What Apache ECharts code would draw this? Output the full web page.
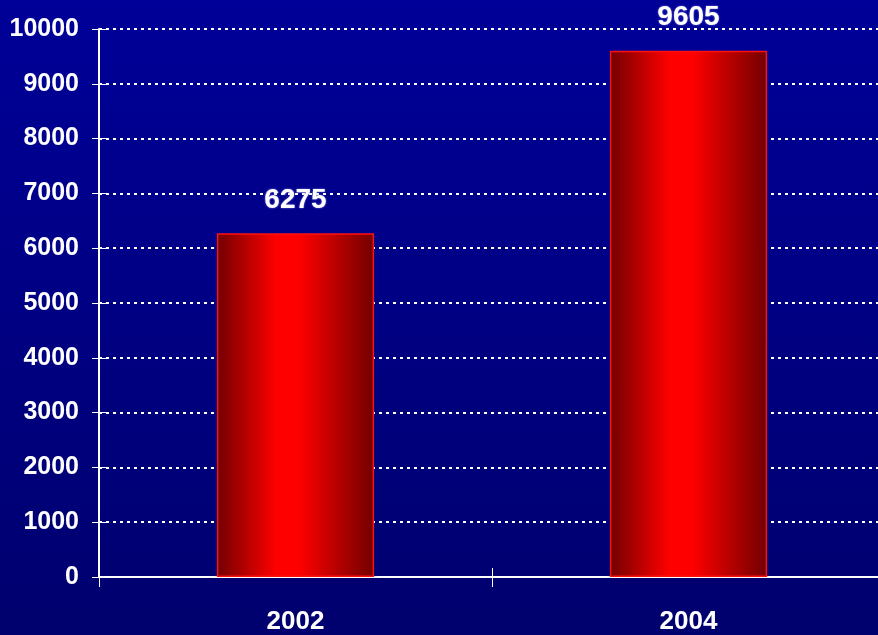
<!DOCTYPE html>
<html>
<head>
<meta charset="utf-8">
<title>bar</title>
<script src="https://cdn.jsdelivr.net/npm/echarts@6/dist/echarts.min.js"></script>
<style>
  html, body { margin: 0; padding: 0; }
  #zhu { width: 878px; height: 635px; }
</style>
</head>
<body>
<div id="zhu"></div>
<script type="text/javascript">
var categories = ['2002', '2004'];
var values = [6275, 9605];

var font = "'Liberation Sans Narrow', 'Arial Narrow', 'Liberation Sans', Arial, sans-serif";

var chart = echarts.init(document.getElementById('zhu'));
// 配置项
var option = {
    backgroundColor: new echarts.graphic.LinearGradient(0, 0, 0, 1, [
        { offset: 0, color: '#000098' },
        { offset: 1, color: '#00006e' }
    ]),
    grid: {
        left: 99,
        top: 29,
        width: 786,
        height: 548,
        outerBoundsMode: 'none',
        containLabel: false
    },
    xAxis: [{
        type: 'category',
        data: categories,
        axisLine: {
            lineStyle: { color: '#ffffff', width: 2 }
        },
        axisTick: {
            show: true,
            length: 10,
            lineStyle: { color: '#ffffff', width: 1 }
        },
        axisLabel: {
            color: '#ffffff',
            fontFamily: font,
            fontWeight: 'bold',
            fontSize: 26,
            margin: 32
        }
    }, {
        // 内侧刻度
        type: 'category',
        position: 'bottom',
        data: categories,
        axisLine: { show: false },
        axisTick: {
            show: true,
            inside: true,
            length: 9,
            lineStyle: { color: '#ffffff', width: 1 }
        },
        axisLabel: { show: false }
    }],
    yAxis: [{
        type: 'value',
        min: 0,
        max: 10000,
        interval: 1000,
        axisLine: {
            show: true,
            lineStyle: { color: '#ffffff', width: 2 }
        },
        axisTick: {
            show: true,
            length: 7,
            lineStyle: { color: '#ffffff', width: 1 }
        },
        axisLabel: {
            color: '#ffffff',
            fontFamily: font,
            fontWeight: 'bold',
            fontSize: 25,
            margin: 20,
            formatter: function (v) { return String(v); }
        },
        splitLine: {
            show: true,
            lineStyle: {
                color: '#ffffff',
                width: 2,
                type: [3, 4]
            }
        }
    }, {
        type: 'value',
        min: 0,
        max: 10000,
        interval: 1000,
        position: 'left',
        axisLine: { show: false },
        axisTick: {
            show: true,
            inside: true,
            length: 8,
            lineStyle: { color: '#ffffff', width: 1 }
        },
        axisLabel: { show: false },
        splitLine: { show: false }
    }],
    series: [{
        type: 'bar',
        data: values,
        barWidth: '40%',
        itemStyle: {
            borderColor: '#ff1010',
            borderWidth: 1.5,
            color: new echarts.graphic.LinearGradient(0, 0, 1, 0, [
                { offset: 0, color: '#720000' },
                { offset: 0.38, color: '#ff0000' },
                { offset: 0.52, color: '#ff0000' },
                { offset: 1, color: '#720000' }
            ])
        },
        label: {
            show: true,
            position: 'top',
            distance: 19,
            color: '#ffffff',
            fontFamily: font,
            fontWeight: 'bold',
            fontSize: 28,
            textShadowColor: 'rgba(160,160,255,0.8)',
            textShadowBlur: 2
        }
    }]
};
chart.setOption(option);
</script>
</body>
</html>
